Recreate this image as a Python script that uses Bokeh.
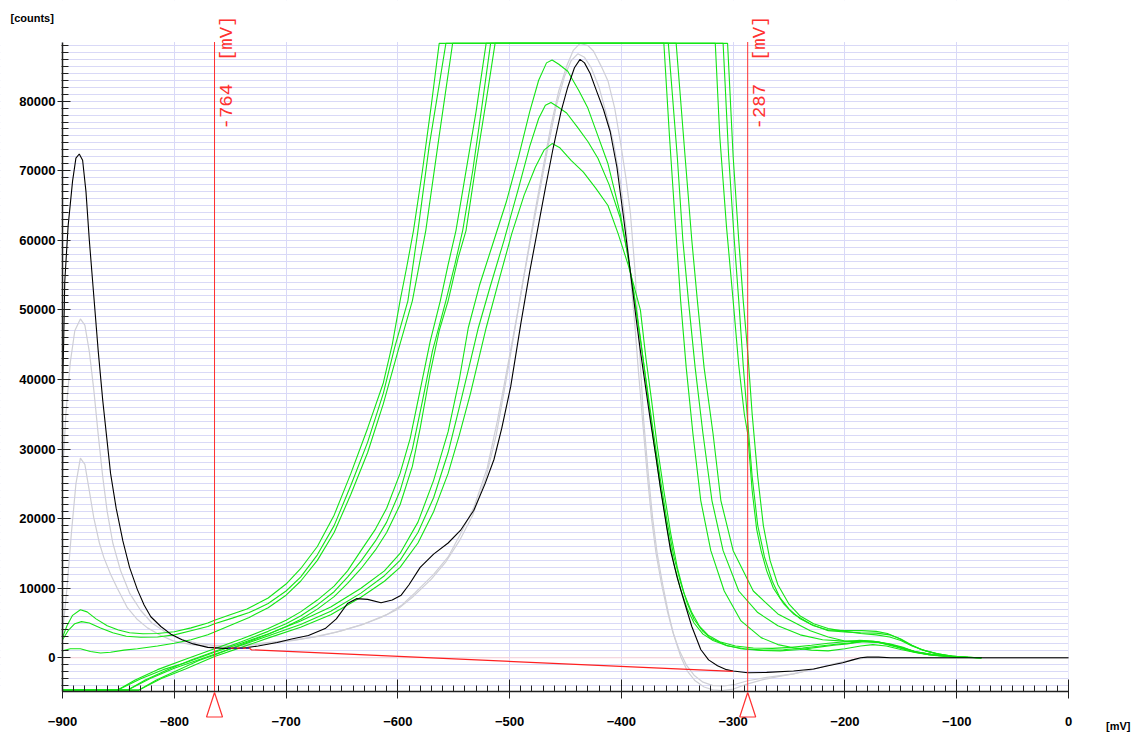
import math
from bokeh.plotting import figure
from bokeh.models import (Range1d, SingleIntervalTicker, Span, Label, PolyAnnotation, BoxAnnotation)
from bokeh.embed import file_html
from bokeh.resources import INLINE

# ---------------- data ----------------
cursor_left = -764
cursor_right = -287
NB = "\u00a0"
cursor_labels = ["-764" + NB * 2 + "[mV]", "-287" + NB * 2 + "[mV]"]

black_x = [-900, -899, -898, -895, -891, -888, -885, -882, -879, -876, -872, -868, -864, -860, -857, -852, -846, -840, -833, -827, -821, -812, -803, -793, -783, -770, -755, -740, -725, -708, -695, -680, -665, -655, -645, -637, -627, -615, -605, -597, -590, -580, -568, -555, -544, -532, -522, -514, -507, -499, -490, -482, -475, -468, -461, -454, -448, -442, -437, -433, -428, -423, -416, -410, -404, -398, -392, -387, -383, -378, -374, -369, -365, -360, -356, -350, -344, -337, -329, -322, -314, -306, -300, -287, -270, -246, -228, -215, -202, -193, -186, -180, -170, -159, -120, 0]
black_y = [38500, 45000, 54000, 62000, 68500, 71800, 72400, 71500, 67000, 60000, 52000, 44000, 37000, 31000, 26500, 21500, 16800, 13000, 9800, 7600, 5900, 4500, 3400, 2600, 2000, 1500, 1350, 1350, 1700, 2200, 2700, 3200, 4200, 5600, 7800, 8500, 8400, 7900, 8300, 9000, 10500, 13000, 14900, 16500, 18300, 21200, 25000, 28500, 33000, 39000, 48000, 55500, 61500, 67500, 73300, 78500, 82000, 84800, 86000, 85500, 84000, 81800, 78800, 75600, 70500, 63200, 55500, 49000, 44100, 38500, 34000, 28800, 24300, 19300, 15400, 11500, 8200, 4500, 1200, -300, -1150, -1700, -1900, -2150, -2100, -1900, -1600, -1150, -700, -300, 0, 100, 100, 0, 0, 0]

gray1_x = [-900, -897, -893, -889, -884, -880, -876, -872, -868, -864, -860, -855, -848, -840, -830, -820, -808, -795, -780, -765, -750, -730, -710, -690, -670, -650, -630, -610, -597, -585, -568, -555, -544, -532, -520, -511, -502, -493, -485, -478, -470, -463, -456, -449, -443, -437, -430, -425, -418, -412, -406, -401, -396, -392, -388, -385, -383, -380, -376, -372, -368, -363, -358, -353, -347, -341, -334, -326, -318, -310, -300, -290, -275, -260, -246, -230, -215, -200, -190, -180, 0]
gray1_y = [26000, 35000, 42500, 47000, 48700, 47800, 44000, 38500, 32000, 26000, 21000, 16500, 12500, 9300, 6800, 5000, 3700, 2700, 2100, 1800, 1800, 2000, 2300, 2600, 3100, 3900, 4900, 6200, 7500, 9300, 12000, 14500, 17800, 21600, 27300, 34000, 41700, 49500, 57000, 63500, 70500, 76500, 81500, 85000, 87300, 88300, 88000, 87200, 85000, 82900, 79000, 74300, 69000, 64000, 56000, 48000, 42000, 34000, 26500, 20000, 15000, 10500, 6500, 3200, 200, -1900, -3300, -4200, -4600, -4700, -4500, -3900, -3200, -2700, -2300, -1700, -1100, -600, -200, 0, 0]

gray2_x = [-900, -896, -892, -888, -884, -880, -876, -872, -867, -863, -857, -851, -842, -833, -824, -812, -801, -785, -770, -750, -730, -710, -693, -675, -655, -633, -615, -600, -587, -570, -557, -545, -533, -521, -512, -503, -495, -487, -479, -472, -465, -458, -451, -445, -439, -433, -427, -420, -414, -407, -401, -396, -392, -388, -385, -381, -377, -373, -369, -364, -359, -354, -348, -342, -335, -327, -318, -308, -298, -287, -270, -246, -225, -210, -200, -189, -180, 0]
gray2_y = [3500, 10000, 18000, 25000, 28700, 27800, 24000, 20100, 16500, 14400, 12000, 10000, 7200, 5500, 4300, 3200, 2440, 1900, 1700, 1650, 1850, 2150, 2500, 3000, 3700, 4700, 5800, 7000, 8700, 11300, 13800, 16800, 20500, 26000, 32000, 40000, 47500, 55000, 62000, 68000, 74000, 79500, 83500, 85800, 86800, 86300, 84800, 82000, 78500, 74000, 68500, 62000, 55000, 48000, 41700, 34000, 26500, 20000, 15000, 10500, 6800, 3700, 1000, -1000, -2500, -3500, -4000, -4050, -3800, -3300, -2800, -2300, -1500, -860, -500, -140, 0, 0]

# green curves with left bump (saturated)
ga1_x = [-900, -896, -891, -884, -878, -870, -860, -850, -840, -828, -815, -800, -785, -770, -764, -750, -735, -716, -700, -687, -672, -657, -642, -627, -613, -605, -598, -592, -586, -578, -570, -563, -316, -312, -306, -300, -295, -290, -287, -283, -279, -275, -270, -264, -255, -246, -230, -215, -200, -186, -172, -160, -150, -140, -130, -118, -105, -90, -78]
ga1_y = [2900, 4600, 6100, 6900, 6600, 5600, 4600, 4000, 3600, 3450, 3500, 3750, 4300, 5000, 5400, 6200, 7000, 8600, 10600, 12800, 16000, 20500, 26500, 33000, 39500, 45000, 51300, 56200, 61400, 70000, 79500, 88300, 88300, 75000, 62000, 51300, 42000, 35000, 32200, 24000, 18500, 15400, 12500, 10000, 7800, 6300, 4800, 3900, 3700, 3600, 3550, 3300, 2700, 1800, 1100, 600, 250, 80, 0]

ga2_x = [-900, -895, -889, -883, -876, -866, -855, -843, -830, -815, -800, -785, -770, -764, -748, -733, -716, -700, -687, -672, -657, -642, -627, -613, -603, -591, -582, -572, -557, -309, -304, -299, -295, -291, -287, -283, -278, -272, -265, -258, -250, -240, -228, -215, -200, -185, -172, -162, -152, -142, -132, -120, -108, -95, -78]
ga2_y = [2600, 3900, 4900, 5200, 5000, 4300, 3600, 3100, 2950, 3000, 3300, 3900, 4500, 4900, 5700, 6500, 7800, 9600, 11600, 14800, 19000, 24800, 31000, 38000, 44500, 51300, 61400, 73500, 88300, 88300, 72000, 60000, 51300, 42000, 34000, 26000, 19000, 14500, 11000, 8600, 7000, 5600, 4600, 4000, 3900, 3900, 3800, 3500, 2800, 1900, 1200, 650, 300, 100, 0]

ga3_x = [-900, -893, -884, -875, -866, -857, -845, -833, -815, -800, -785, -770, -764, -748, -733, -716, -700, -687, -672, -657, -642, -627, -613, -600, -587, -575, -563, -551, -305, -300, -295, -291, -287, -283, -278, -273, -267, -260, -250, -240, -228, -215, -200, -186, -172, -160, -150, -140, -128, -116, -104, -92, -78]
ga3_y = [1000, 1300, 1300, 900, 700, 800, 1100, 1300, 1700, 2100, 2600, 3300, 3700, 4800, 5800, 7200, 9000, 11000, 14000, 18000, 23500, 29500, 36500, 44000, 51300, 61400, 75000, 88300, 88300, 72000, 60000, 51300, 44000, 35000, 26000, 19000, 14000, 10500, 7700, 6000, 4900, 4200, 3800, 3500, 3300, 3000, 2500, 1700, 1000, 550, 250, 80, 0]

# green curves rising from the floor (saturated)
gb1_x = [-900, -851, -835, -815, -790, -764, -740, -716, -700, -687, -672, -657, -645, -633, -620, -610, -598, -589, -580, -571, -562, -555, -548, -540, -530, -521, -362, -357, -352, -347, -342, -336, -329, -320, -308, -293, -275, -260, -246, -230, -215, -200, -186, -175, -163, -150, -135, -120, -100, -78]
gb1_y = [-4650, -4650, -3200, -1700, -200, 1300, 2700, 4200, 5400, 6600, 8300, 10300, 12500, 15400, 18500, 21500, 26500, 31500, 38500, 45500, 51300, 56500, 61400, 69000, 78500, 88300, 88300, 75000, 63000, 51300, 41700, 32200, 22600, 15400, 9600, 5300, 2900, 1900, 1440, 1100, 1000, 1300, 1700, 1900, 1700, 1200, 700, 350, 100, 0]

gb2_x = [-900, -842, -826, -806, -785, -764, -740, -716, -700, -687, -672, -657, -645, -633, -620, -610, -598, -587, -578, -569, -557, -549, -542, -533, -525, -517, -358, -350, -345, -340, -334, -327, -319, -309, -295, -278, -260, -240, -220, -201, -185, -170, -155, -140, -125, -105, -78]
gb2_y = [-4650, -4650, -3200, -1700, -300, 900, 2300, 3800, 4900, 6000, 7600, 9500, 11600, 13900, 16800, 19500, 24000, 30000, 36900, 44100, 51300, 56500, 61400, 70000, 79000, 88300, 88300, 72000, 60000, 51300, 41700, 32200, 22600, 15400, 9600, 6500, 4600, 3300, 2600, 2400, 2300, 2200, 1600, 900, 450, 150, 0]

gb3_x = [-900, -832, -816, -796, -778, -764, -740, -716, -700, -687, -672, -657, -645, -633, -620, -610, -598, -587, -580, -571, -563, -555, -546, -539, -530, -521, -513, -351, -343, -337, -332, -326, -318, -311, -300, -282, -260, -231, -215, -201, -185, -170, -155, -140, -125, -105, -78]
gb3_y = [-4650, -4650, -3200, -1700, -400, 400, 1900, 3400, 4500, 5500, 7000, 8800, 10700, 12800, 15500, 18000, 22000, 27500, 33000, 41000, 47000, 51300, 57500, 61400, 71000, 80000, 88300, 88300, 72000, 60000, 51300, 41700, 32200, 22600, 15400, 9600, 6300, 3900, 3000, 2440, 2400, 2300, 1700, 900, 450, 150, 0]

# green curves with a visible peak
p1_x = [-900, -851, -830, -810, -790, -764, -740, -715, -687, -660, -633, -612, -598, -582, -568, -555, -545, -537, -527, -515, -503, -492, -482, -474, -467, -462, -456, -448, -438, -430, -421, -412, -401, -395, -389, -385, -378, -371, -365, -359, -353, -347, -341, -335, -327, -320, -306, -293, -275, -258, -240, -225, -210, -198, -185, -173, -160, -148, -138, -123, -108, -92, -78]
p1_y = [-4650, -4650, -3000, -1700, -700, 800, 2100, 3500, 5300, 7300, 10000, 12500, 15000, 19500, 25500, 32500, 40000, 47400, 53500, 59500, 65500, 72000, 78500, 83000, 85500, 85900, 85300, 84300, 81500, 79000, 75000, 71000, 63800, 58500, 52500, 48000, 40000, 32000, 25500, 19500, 14500, 10800, 7800, 5500, 3800, 2800, 1800, 1300, 1050, 1000, 1200, 1500, 1800, 2000, 2300, 2300, 2000, 1500, 900, 500, 250, 80, 0]

p2_x = [-900, -842, -822, -800, -780, -764, -740, -715, -687, -660, -633, -612, -598, -582, -568, -555, -545, -536, -528, -518, -505, -492, -482, -474, -468, -463, -457, -449, -439, -430, -421, -411, -401, -395, -389, -383, -377, -371, -365, -359, -353, -347, -341, -335, -327, -318, -305, -290, -272, -255, -238, -222, -208, -195, -182, -170, -158, -146, -135, -120, -105, -90, -78]
p2_y = [-4650, -4650, -3000, -1500, -400, 500, 1800, 3200, 4800, 6700, 9300, 11800, 14000, 18000, 23000, 29500, 36000, 42000, 47400, 53000, 60000, 67500, 73500, 77500, 79400, 79800, 79200, 78300, 76200, 74200, 71800, 68000, 63200, 58500, 52700, 46000, 38500, 31000, 24500, 18500, 13500, 9800, 7000, 5000, 3400, 2500, 1700, 1300, 1100, 1150, 1400, 1700, 1950, 2150, 2400, 2200, 1800, 1300, 800, 450, 200, 60, 0]

p3_x = [-900, -832, -812, -790, -764, -740, -715, -687, -660, -633, -612, -598, -582, -568, -555, -545, -535, -521, -510, -498, -487, -477, -469, -462, -455, -445, -434, -423, -412, -403, -394, -388, -383, -378, -373, -368, -362, -356, -350, -344, -337, -330, -322, -312, -298, -282, -265, -248, -230, -215, -200, -187, -175, -162, -150, -138, -125, -110, -95, -78]
p3_y = [-4650, -4650, -3000, -1600, 200, 1500, 2900, 4400, 6200, 8700, 11000, 13000, 16500, 21000, 26500, 32000, 38000, 47400, 54000, 61000, 66500, 70500, 73000, 73900, 73300, 71500, 69800, 67500, 65000, 61000, 56500, 53000, 50000, 43000, 37000, 30500, 24000, 18000, 13000, 9300, 6500, 4500, 3200, 2300, 1700, 1400, 1350, 1500, 1800, 2100, 2300, 2500, 2400, 2000, 1500, 950, 550, 250, 80, 0]

baseline_x = [-752, -733, -731, -300]
baseline_y = [1400, 1400, 1150, -1950]

# ---------------- layout helpers (pixel <-> data) ----------------
W, H = 1133, 736
X_LO, X_HI = -900, 0          # axis extent
Y_LO, Y_HI = -4770, 88500     # axis extent
PX_X0, PX_X1 = 62.0, 1068.0   # pixel position of axis extent
PX_Y_HI, PX_Y_LO = 41.5, 690.5
sx = (X_HI - X_LO) / (PX_X1 - PX_X0)
sy = (Y_HI - Y_LO) / (PX_Y_LO - PX_Y_HI)
def dx(px):
    return X_LO + (px - PX_X0) * sx
def dy(py):
    return Y_LO + (PX_Y_LO - py) * sy

p = figure(width=W, height=H, output_backend="svg", toolbar_location=None,
           x_range=Range1d(dx(0), dx(W)), y_range=Range1d(dy(H), dy(0)),
           min_border=0)
p.min_border_left = p.min_border_right = p.min_border_top = p.min_border_bottom = 0
p.outline_line_color = None
p.background_fill_color = "white"
p.border_fill_color = "white"

p.xaxis.ticker = SingleIntervalTicker(interval=100, num_minor_ticks=10)
p.yaxis.ticker = SingleIntervalTicker(interval=10000, num_minor_ticks=10)
p.xaxis.fixed_location = Y_LO
p.yaxis.fixed_location = X_LO
p.xaxis.bounds = (X_LO, X_HI)
p.yaxis.bounds = (Y_LO, Y_HI)
for ax in (p.xaxis, p.yaxis):
    ax.major_label_text_font = "Liberation Sans"
    ax.major_label_text_font_style = "bold"
    ax.major_label_text_font_size = "13px"
    ax.major_label_text_color = "black"
    ax.axis_line_color = "#202020"
    ax.axis_line_width = 1.5
    ax.major_tick_line_color = "#202020"
    ax.minor_tick_line_color = "#202020"
p.xaxis.major_tick_in = 12
p.xaxis.major_tick_out = 7
p.xaxis.minor_tick_in = 6
p.xaxis.minor_tick_out = 0
p.xaxis.major_label_standoff = 19
p.yaxis.major_tick_in = 8
p.yaxis.major_tick_out = 5
p.yaxis.minor_tick_in = 6
p.yaxis.minor_tick_out = 1
p.yaxis.major_label_standoff = 2

grid_col = "#d9d9f7"
p.xgrid.grid_line_color = grid_col
p.ygrid.grid_line_color = grid_col
p.ygrid.minor_grid_line_color = grid_col
p.xgrid.ticker = p.xaxis.ticker
p.ygrid.ticker = p.yaxis.ticker

p.add_layout(Span(location=0, dimension="width", line_color="#ffd6d6", line_width=1, level="underlay"))
# white masks so that the grid only covers the axis extent
for kw in (dict(bottom=Y_HI), dict(top=Y_LO), dict(right=X_LO), dict(left=X_HI)):
    p.add_layout(BoxAnnotation(fill_color="white", fill_alpha=1, line_alpha=0,
                               level="underlay", **kw))

gray = "#cfcfd6"
green = "#14e614"
p.line(gray1_x, gray1_y, line_color=gray, line_width=1.2)
p.line(gray2_x, gray2_y, line_color=gray, line_width=1.2)
for xs, ys in [(ga1_x, ga1_y), (ga2_x, ga2_y), (ga3_x, ga3_y),
               (gb1_x, gb1_y), (gb2_x, gb2_y), (gb3_x, gb3_y),
               (p1_x, p1_y), (p2_x, p2_y), (p3_x, p3_y)]:
    p.line(xs, ys, line_color=green, line_width=1.1)
p.line(black_x, black_y, line_color="black", line_width=1.1)
p.line(baseline_x, baseline_y, line_color="#ff2020", line_width=1.2)
p.line(baseline_x[:2], baseline_y[:2], line_color="#1030c0", line_width=1.2, line_dash="3 3")

red = "#ff3030"
cursors = [cursor_left, cursor_right]
p.segment(x0=cursors, y0=[Y_LO] * 2, x1=cursors, y1=[Y_HI] * 2, line_color=red, line_width=1)
for cx, txt in zip(cursors, cursor_labels):
    p.add_layout(Label(x=cx, y=dy(129), x_offset=12, text=txt, angle=math.pi / 2,
                       text_align="left", text_baseline="middle",
                       text_font="Liberation Mono", text_font_size="19px",
                       text_color=red))
    # cursor marker triangle below the axis
    p.add_layout(PolyAnnotation(xs=[cx - 8 * sx, cx, cx + 8 * sx],
                                ys=[dy(716.5), dy(692), dy(716.5)],
                                fill_alpha=0, line_color=red, line_alpha=1.0,
                                line_width=1.2))

p.add_layout(Label(x=dx(10), y=dy(17), text="[counts]",
                   text_align="left", text_baseline="middle",
                   text_font="Liberation Sans", text_font_style="bold",
                   text_font_size="11px", text_color="black"))
p.add_layout(Label(x=dx(1130), y=dy(725.5), text="[mV]",
                   text_align="right", text_baseline="middle",
                   text_font="Liberation Sans", text_font_style="bold",
                   text_font_size="11px", text_color="black"))

open("out.html", "w").write(file_html(p, INLINE))
